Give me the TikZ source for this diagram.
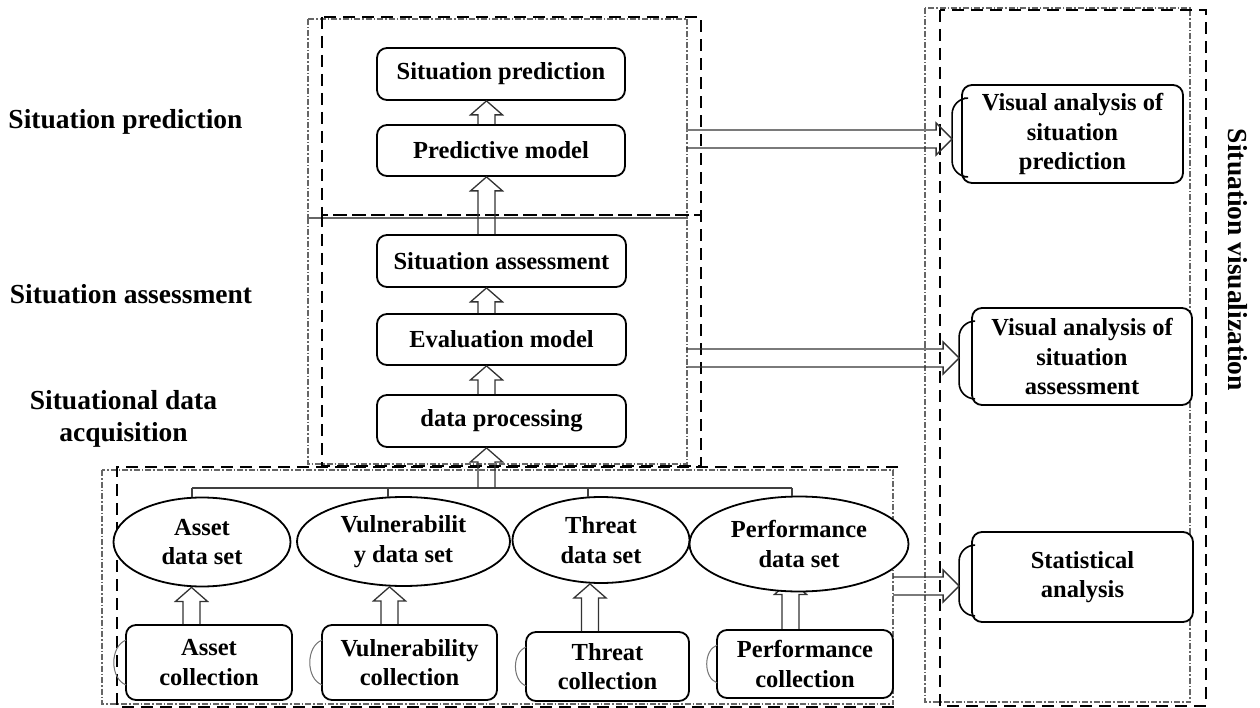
\documentclass[tikz,border=0pt]{standalone}
\usepackage{fontspec}
\setmainfont{Liberation Serif}
\usetikzlibrary{calc,shapes.geometric,backgrounds}

\tikzset{
  txt/.style={font=\bfseries\fontsize{24.5}{29.5}\selectfont, align=center, text=black},
  lbl/.style={font=\bfseries\fontsize{27.5}{32}\selectfont, align=center, inner sep=0pt},
  stagebox/.style={txt, draw, line width=1.8pt, rounded corners=10pt, fill=white, inner sep=0pt},
  dataset/.style={txt, ellipse, draw, line width=1.8pt, fill=white, inner sep=0pt},
  zone/.style={draw=black, line width=2.6pt, dash pattern=on 12pt off 7pt},
  ghostzone/.style={draw=black!60, line width=1.2pt, dash pattern=on 6pt off 2pt on 1.5pt off 2pt},
  ghostarc/.style={draw=black!55, line width=1pt},
  shadowarc/.style={draw=black, line width=1.6pt, rounded corners=16pt},
  bus/.style={draw=black!75, line width=1.2pt},
  % hollow block arrow pointing up; x taken from the start point
  uparrow/.style={draw=black!80, line width=1.3pt, line join=miter,
    to path={let \p1=(\tikztostart), \p2=(\tikztotarget) in
      (\x1-8.5pt,\y1) -- (\x1-8.5pt,\y2-14pt) -- (\x1-16pt,\y2-14pt) -- (\x1,\y2)
      -- (\x1+16pt,\y2-14pt) -- (\x1+8.5pt,\y2-14pt) -- (\x1+8.5pt,\y1)}},
  % hollow block arrow pointing right; y taken from the start point
  rightarrow/.style={draw=black!80, line width=1.3pt, line join=miter,
    to path={let \p1=(\tikztostart), \p2=(\tikztotarget) in
      (\x1,\y1+9pt) -- (\x2-16pt,\y1+9pt) -- (\x2-16pt,\y1+16pt) -- (\x2,\y1)
      -- (\x2-16pt,\y1-16pt) -- (\x2-16pt,\y1-9pt) -- (\x1,\y1-9pt)}}
}

\begin{document}
\begin{tikzpicture}[x=1pt, y=-1pt]
\useasboundingbox (0,0) rectangle (1260,708);
\begin{scope}[on background layer]
\fill[white] (0,0) rectangle (1260,708);
\end{scope}

% layer regions
\draw[ghostzone] (308,19) rectangle (687,218);
\draw[ghostzone] (308,218) rectangle (687,464);
\draw[ghostzone] (102,470) rectangle (893,704);
\draw[ghostzone] (925,8) rectangle (1190,702);
\draw[zone] (322,17) rectangle (701,215);
\draw[zone] (322,215) rectangle (701,466);
\draw[zone] (898,467) -- (117,467) -- (117,707) -- (898,707);
\draw[zone] (940,10) rectangle (1206,706);

% layer labels
\node[lbl] (lp) at (125.5,122) {Situation prediction};
\node[lbl] (la) at (131,294) {Situation assessment};
\node[lbl] (ld) at (123.5,419) {Situational data\\acquisition};
\node[lbl, rotate=-90] (lv) at (1238,260) {Situation visualization};

% processing chain
\node[stagebox, minimum width=248pt, minimum height=52pt] (sp) at (501,74) {Situation prediction};
\node[stagebox, minimum width=248pt, minimum height=51pt] (pm) at (501,150.5) {Predictive model};
\node[stagebox, minimum width=249pt, minimum height=52pt] (sa) at (501.5,261) {Situation assessment};
\node[stagebox, minimum width=249pt, minimum height=51pt] (em) at (501.5,339.5) {Evaluation model};
\node[stagebox, minimum width=249pt, minimum height=52pt] (dp) at (501.5,421) {data processing};

% data sets
\node[dataset, minimum width=177pt, minimum height=89pt] (ads) at (202,542) {Asset\\data set};
\node[dataset, minimum width=213pt, minimum height=89pt] (vds) at (403.5,541.5) {Vulnerabilit\\y data set};
\node[dataset, minimum width=177pt, minimum height=86pt] (tds) at (601,540) {Threat\\data set};
\node[dataset, minimum width=219pt, minimum height=95pt] (pds) at (799,544) {Performance\\data set};

% collectors
\node[stagebox, minimum width=166pt, minimum height=75pt] (ac) at (209,662.5) {Asset\\collection};
\node[stagebox, minimum width=175pt, minimum height=75pt] (vc) at (409.5,662.5) {Vulnerability\\collection};
\node[stagebox, minimum width=163pt, minimum height=69pt] (tc) at (607.5,666.5) {Threat\\collection};
\node[stagebox, minimum width=176pt, minimum height=68pt] (pc) at (805,664) {Performance\\collection};

% visualization views
\node[stagebox, minimum width=221pt, minimum height=98pt] (vp) at (1072.5,134) {Visual analysis of\\situation\\prediction};
\node[stagebox, minimum width=220pt, minimum height=97pt] (va) at (1082,356.5) {Visual analysis of\\situation\\assessment};
\node[stagebox, minimum width=221pt, minimum height=90pt] (st) at (1082.5,577) {Statistical\\analysis};

% stacked-sheet edges on the left of the views
\draw[shadowarc] ([xshift=3pt,yshift=-14pt]vp.north west) -| ([xshift=-9pt]vp.west) |- ([xshift=3pt,yshift=7pt]vp.south west);
\draw[shadowarc] ([xshift=3pt,yshift=-14pt]va.north west) -| ([xshift=-12pt]va.west) |- ([xshift=3pt,yshift=7pt]va.south west);
\draw[shadowarc] ([xshift=3pt,yshift=-14pt]st.north west) -| ([xshift=-12pt]st.west) |- ([xshift=3pt,yshift=7pt]st.south west);

\foreach \n in {ac,vc,tc,pc}
  \draw[ghostarc] ([xshift=1pt,yshift=-16pt]\n.north west) to[out=200,in=160] ([xshift=1pt,yshift=16pt]\n.south west);

% flow inside the chain
\draw[uparrow] ([xshift=-14.5pt]pm.north) to ([xshift=-14.5pt]sp.south);
\draw[uparrow] ([xshift=-15pt]sa.north) to ([xshift=-15pt]pm.south);
\draw[uparrow] ([xshift=-15pt]em.north) to ([xshift=-15pt]sa.south);
\draw[uparrow] ([xshift=-15pt]dp.north) to ([xshift=-15pt]em.south);

% collection bus into data processing
\coordinate (busL) at (192,488);
\coordinate (busR) at (792,488);
\coordinate (busA) at (486.5,488);
\draw[bus] (busL) -- (busR);
\draw[bus] (busL) -- (busL |- ads.north);
\draw[bus] (388,488) -- (388,497);
\draw[bus] (588,488) -- (588,497);
\draw[bus] (busR) -- (busR |- pds.north);
\draw[uparrow] (busA) to ([xshift=-15pt]dp.south);

% collectors into data sets
\draw[uparrow] ([xshift=-17.5pt]ac.north) to (ads.south);
\draw[uparrow] ([xshift=-20pt]vc.north) to (vds.south);
\draw[uparrow] ([xshift=-17.5pt]tc.north) to (tds.south);
\begin{scope}[on background layer]
\draw[uparrow] ([xshift=-14.5pt]pc.north) to ([yshift=12pt]pds.south);
\end{scope}

% outputs to the visualization views
\coordinate (pOut) at (686,139);
\coordinate (aOut) at (686,358);
\coordinate (sOut) at (893,586);
\draw[rightarrow] (pOut) to ([xshift=-9pt]vp.west);
\draw[rightarrow] (aOut) to ([xshift=-12pt]va.west);
\draw[rightarrow] (sOut) to ([xshift=-12pt]st.west);
\end{tikzpicture}
\end{document}
